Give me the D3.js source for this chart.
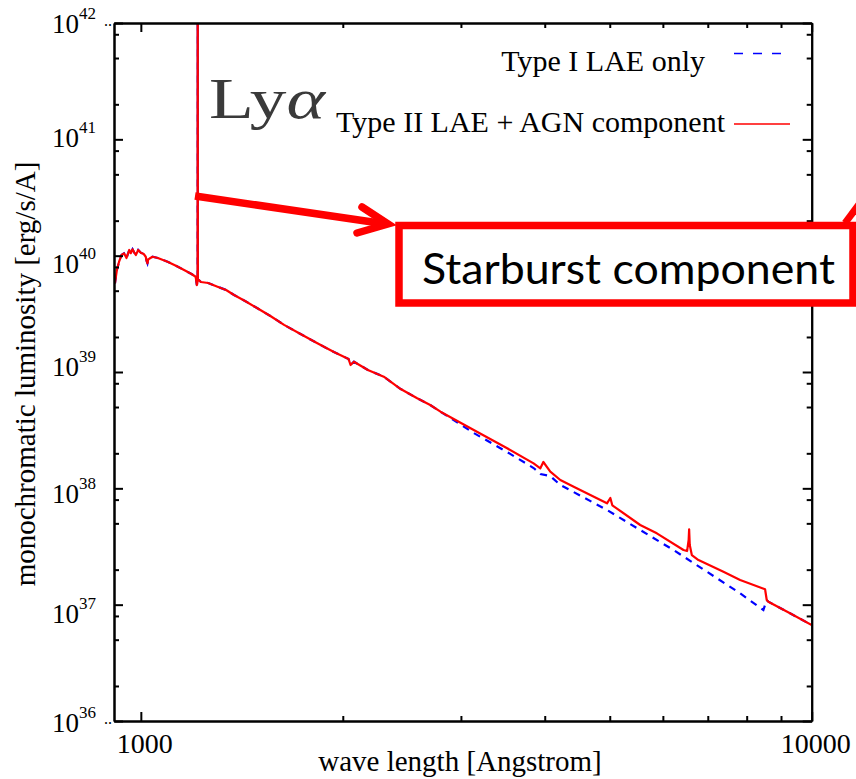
<!DOCTYPE html>
<html>
<head>
<meta charset="utf-8">
<script src="https://cdn.jsdelivr.net/npm/d3@7"></script>
<style>
  html, body { margin: 0; padding: 0; background: #fff; }
  svg { display: block; }
</style>
</head>
<body>
<svg id="chart" width="856" height="779"></svg>
<script>
// ---------------- DATA ----------------
// Type II LAE + AGN component (red, solid): wavelength [Angstrom] and luminosity [erg/s/A]
const wavelengthAGN = [915, 921, 928, 936, 944, 952, 961, 966, 972, 977, 983, 991, 1000, 1010, 1017, 1020, 1023, 1026, 1032, 1041, 1060, 1096, 1130, 1160, 1190, 1207, 1212,
  1215, 1215.6, 1216.2, 1220, 1229, 1260, 1301, 1340, 1377, 1430, 1492, 1560, 1635, 1730, 1833, 1940, 2040, 2054, 2078, 2180, 2302, 2440, 2582, 2700, 2797,
  3135, 3516, 3850, 3940, 3981, 4077, 4220, 4418, 4953, 5010, 5044, 5551, 5877, 6440, 6520, 6555, 6566, 6580, 6627, 6780, 7386, 7822, 8521, 8570, 8618, 9283, 10000];
const lumAGN = [5.78e39, 7.53e39, 8.87e39, 1.013e40, 1.048e40, 9.55e39, 1.119e40, 1.05e40, 1.134e40, 1.07e40, 1.013e40, 1.119e40, 1.061e40, 1.033e40, 9.79e39, 9.0e39, 8.60e39, 9.3e39, 9.49e39, 9.79e39, 9.55e39, 8.87e39, 8.15e39, 7.53e39, 6.96e39, 6.59e39, 5.59e39,
  6.0e39, 1e43, 6.2e39, 6.18e39, 5.94e39, 5.82e39, 5.41e39, 5.07e39, 4.59e39, 4.08e39, 3.53e39, 3.03e39, 2.54e39, 2.12e39, 1.765e39, 1.485e39, 1.293e39, 1.148e39, 1.226e39, 1.04e39, 9.11e38, 7.14e38, 5.94e38, 5.20e38, 4.56e38,
  3.17e38, 2.21e38, 1.64e38, 1.486e38, 1.684e38, 1.39e38, 1.179e38, 1.033e38, 7.43e37, 8.26e37, 7.15e37, 4.84e37, 4.105e37, 2.95e37, 2.89e37, 3.60e37, 4.44e37, 3.26e37, 2.67e37, 2.42e37, 1.92e37, 1.63e37, 1.356e37, 1.097e37, 1.06e37, 8.43e36, 6.68e36];

// Type I LAE only (blue, dashed)
const wavelengthLAE = [915, 921, 928, 936, 944, 952, 961, 966, 972, 977, 983, 991, 1000, 1010, 1017, 1020, 1023, 1026, 1032, 1041, 1060, 1096, 1130, 1160, 1190, 1207, 1212,
  1215, 1215.6, 1216.2, 1220, 1229, 1260, 1301, 1340, 1377, 1430, 1492, 1560, 1635, 1730, 1833, 1940, 2040, 2054, 2078, 2180, 2302, 2440, 2582, 2700, 2797,
  3135, 3516, 3850, 3940, 4077, 4220, 4418, 4953, 5551, 6223, 6979, 7822, 8472, 8570, 8618, 9283, 10000];
const lumLAE = [5.78e39, 7.53e39, 8.87e39, 1.013e40, 1.048e40, 9.55e39, 1.119e40, 1.05e40, 1.134e40, 1.07e40, 1.013e40, 1.119e40, 1.061e40, 1.033e40, 9.79e39, 9.0e39, 8.60e39, 9.3e39, 9.49e39, 9.79e39, 9.55e39, 8.87e39, 8.15e39, 7.53e39, 6.96e39, 6.59e39, 5.59e39,
  6.0e39, 1e43, 6.2e39, 6.18e39, 5.94e39, 5.82e39, 5.41e39, 5.07e39, 4.59e39, 4.08e39, 3.53e39, 3.03e39, 2.54e39, 2.12e39, 1.765e39, 1.485e39, 1.293e39, 1.148e39, 1.226e39, 1.04e39, 9.11e38, 7.14e38, 5.94e38, 5.20e38, 4.56e38,
  2.99e38, 2.05e38, 1.495e38, 1.327e38, 1.276e38, 1.068e38, 9.29e37, 6.51e37, 4.38e37, 2.95e37, 1.92e37, 1.252e37, 8.995e36, 1.097e37, 1.06e37, 8.43e36, 6.68e36];

const seriesNames = ["Type I LAE only", "Type II LAE + AGN component"];
const xLabelText = "wave length [Angstrom]";
const yLabelText = "monochromatic luminosity [erg/s/A]";
const xDomain = [912, 10000];
const yDomain = [1e36, 1e42];
const xMajorTicks = [1000, 10000];
const xTickLabels = ["1000", "10000"];
const xMinorTicks = [2000, 3000, 4000, 5000, 6000, 7000, 8000, 9000];
const yExponents = [36, 37, 38, 39, 40, 41, 42];
const yMinorMantissas = [2, 5, 8];
const annotationLya = "Ly";
const annotationAlpha = "α";
const annotationBox = "Starburst component";

// ---------------- LAYOUT ----------------
const plot = { left: 114, right: 811.7, top: 23, bottom: 721 };
const yLabelNudge = [10.7, 18, 14.7, 4, 17.7, 7.4, 10.3]; // baseline offsets per exponent label (36..42)
const serif = "'Liberation Serif','Times New Roman',Times,serif";

const svg = d3.select("#chart");
const x = d3.scaleLog().domain(xDomain).range([plot.left, plot.right]);
const y = d3.scaleLog().domain(yDomain).range([plot.bottom, plot.top]);

svg.append("defs").append("clipPath").attr("id", "clip")
  .append("rect").attr("x", plot.left).attr("y", plot.top)
  .attr("width", plot.right - plot.left).attr("height", plot.bottom - plot.top);

// ---- curves ----
const line = d3.line().x(d => x(d[0])).y(d => y(d[1]));
const laeData = wavelengthLAE.map((w, i) => [w, lumLAE[i]]);
const agnData = wavelengthAGN.map((w, i) => [w, lumAGN[i]]);

const curves = svg.append("g").attr("clip-path", "url(#clip)");
curves.append("path").datum(laeData).attr("d", line)
  .attr("fill", "none").attr("stroke", "#0000ff").attr("stroke-width", 2.2)
  .attr("stroke-dasharray", "7,6");
curves.append("path").datum(agnData).attr("d", line)
  .attr("fill", "none").attr("stroke", "#ff0000").attr("stroke-width", 2.2)
  .attr("stroke-linejoin", "round");

// ---- axes ----
const yMinor = [];
yExponents.forEach(e => yMinorMantissas.forEach(m => {
  const v = m * Math.pow(10, e - (m === 8 ? 1 : 0));
  if (v > yDomain[0] && v < yDomain[1]) yMinor.push(v);
}));
const yMajor = yExponents.map(e => Math.pow(10, e));

function styleAxis(g) {
  g.selectAll("path,line").attr("stroke", "#000").attr("stroke-width", 2);
  g.selectAll("text").remove();
}
svg.append("g").attr("transform", `translate(${plot.left},0)`)
  .call(d3.axisLeft(y).tickValues(yMajor).tickSizeInner(-9).tickSizeOuter(0).tickFormat("")).call(styleAxis);
svg.append("g").attr("transform", `translate(${plot.left},0)`)
  .call(d3.axisLeft(y).tickValues(yMinor).tickSizeInner(-5).tickSizeOuter(0).tickFormat("")).call(styleAxis);
svg.append("g").attr("transform", `translate(${plot.right},0)`)
  .call(d3.axisRight(y).tickValues(yMajor).tickSizeInner(-9).tickSizeOuter(0).tickFormat("")).call(styleAxis);
svg.append("g").attr("transform", `translate(${plot.right},0)`)
  .call(d3.axisRight(y).tickValues(yMinor).tickSizeInner(-5).tickSizeOuter(0).tickFormat("")).call(styleAxis);
svg.append("g").attr("transform", `translate(0,${plot.bottom})`)
  .call(d3.axisBottom(x).tickValues(xMajorTicks).tickSizeInner(-9).tickSizeOuter(0).tickFormat("")).call(styleAxis);
svg.append("g").attr("transform", `translate(0,${plot.bottom})`)
  .call(d3.axisBottom(x).tickValues(xMinorTicks).tickSizeInner(-5).tickSizeOuter(0).tickFormat("")).call(styleAxis);
svg.append("g").attr("transform", `translate(0,${plot.top})`)
  .call(d3.axisTop(x).tickValues(xMajorTicks).tickSizeInner(-9).tickSizeOuter(0).tickFormat("")).call(styleAxis);
svg.append("g").attr("transform", `translate(0,${plot.top})`)
  .call(d3.axisTop(x).tickValues(xMinorTicks).tickSizeInner(-5).tickSizeOuter(0).tickFormat("")).call(styleAxis);

// ---- tick labels ----
yExponents.forEach((e, i) => {
  const t = svg.append("text").attr("x", 52).attr("y", y(Math.pow(10, e)) + yLabelNudge[i])
    .attr("font-family", serif).attr("font-size", 27).attr("fill", "#000");
  t.append("tspan").text("10");
  t.append("tspan").attr("dy", -14).attr("font-size", 17).text(String(e));
  if (e === 36 || e === 42) {
    svg.append("text").attr("x", 104).attr("y", y(Math.pow(10, e)) + 3)
      .attr("font-family", serif).attr("font-size", 16).text("..");
  }
});
xMajorTicks.forEach((v, i) => {
  svg.append("text").attr("x", x(v) + 4).attr("y", 753).attr("text-anchor", "middle")
    .attr("font-family", serif).attr("font-size", 28).text(xTickLabels[i]);
});

// ---- axis titles ----
svg.append("text").attr("x", 460).attr("y", 771).attr("text-anchor", "middle")
  .attr("font-family", serif).attr("font-size", 29).text(xLabelText);
svg.append("text").attr("transform", "translate(35,374) rotate(-90)").attr("text-anchor", "middle")
  .attr("font-family", serif).attr("font-size", 29).text(yLabelText);

// ---- legend ----
svg.append("text").attr("x", 705).attr("y", 71).attr("text-anchor", "end")
  .attr("font-family", serif).attr("font-size", 30).text(seriesNames[0]);
svg.append("line").attr("x1", 734).attr("x2", 782).attr("y1", 53.5).attr("y2", 53.5)
  .attr("stroke", "#0000ff").attr("stroke-width", 1.5).attr("stroke-dasharray", "9,10");
svg.append("text").attr("x", 725).attr("y", 131.5).attr("text-anchor", "end")
  .attr("font-family", serif).attr("font-size", 30).text(seriesNames[1]);
svg.append("line").attr("x1", 734).attr("x2", 790).attr("y1", 124).attr("y2", 124)
  .attr("stroke", "#ff0000").attr("stroke-width", 1.5);

// ---- Ly alpha annotation ----
const lya = svg.append("text").attr("x", 209).attr("y", 118)
  .attr("font-family", serif).attr("font-size", 56).attr("fill", "#3a3a3a")
  .attr("textLength", 116).attr("lengthAdjust", "spacingAndGlyphs");
lya.append("tspan").text(annotationLya);
lya.append("tspan").attr("font-style", "italic").text(annotationAlpha);

// ---- arrow + box ----
const red = "#ff0000";
svg.append("line").attr("x1", 195).attr("y1", 196).attr("x2", 386).attr("y2", 224)
  .attr("stroke", red).attr("stroke-width", 7.5).attr("stroke-linecap", "butt");
svg.append("polyline").attr("points", "362,207 388,224 357,233")
  .attr("fill", "none").attr("stroke", red).attr("stroke-width", 7.5)
  .attr("stroke-linecap", "round").attr("stroke-linejoin", "miter");
svg.append("rect").attr("x", 399).attr("y", 225.5).attr("width", 454).attr("height", 77.5)
  .attr("fill", "#fff").attr("stroke", red).attr("stroke-width", 7.5);
svg.append("line").attr("x1", 845).attr("y1", 223).attr("x2", 860).attr("y2", 203)
  .attr("stroke", red).attr("stroke-width", 7);
svg.append("text").attr("x", 422).attr("y", 283.5)
  .attr("font-family", "Lato, 'Open Sans', sans-serif").attr("font-size", 43).attr("fill", "#000")
  .attr("textLength", 413).attr("lengthAdjust", "spacingAndGlyphs").text(annotationBox);
</script>
</body>
</html>
